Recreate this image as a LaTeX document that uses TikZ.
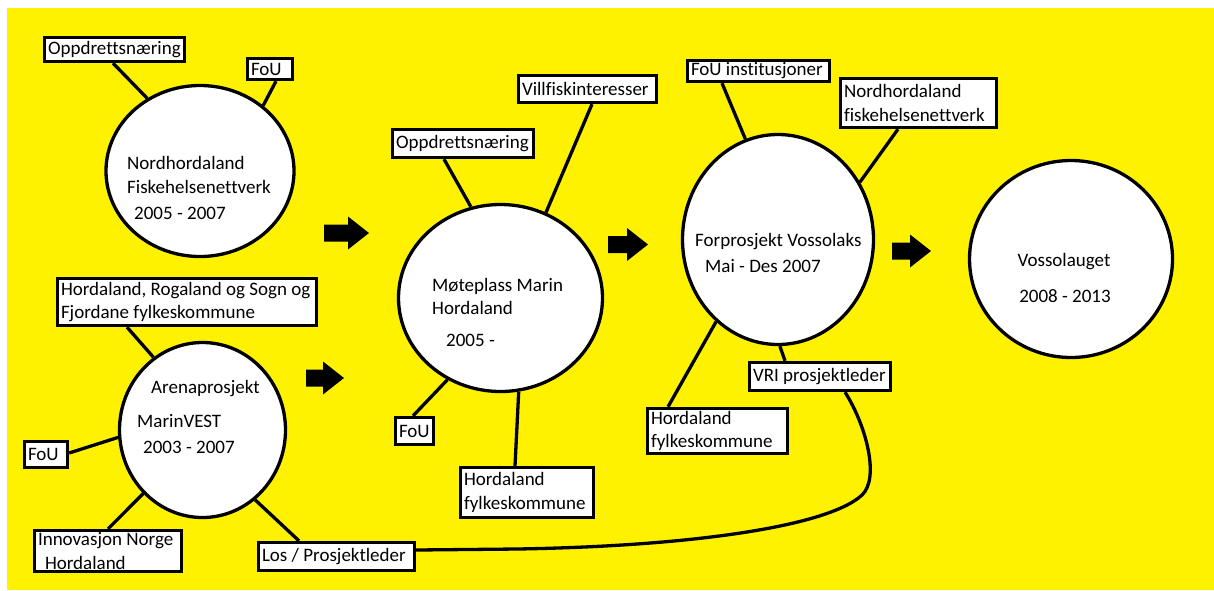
\documentclass[tikz,border=0pt]{standalone}
\usepackage{fontspec}
\setmainfont[Ligatures=NoCommon]{Carlito}
\usetikzlibrary{shapes.geometric,calc}
\definecolor{bgyellow}{RGB}{255,242,0}
\newcommand\figfont{\fontsize{19}{23.5}\selectfont}
\pgfdeclarelayer{background}
\pgfsetlayers{background,main}
\begin{document}
\begin{tikzpicture}[x=1pt,y=-1pt,
  box/.style={draw, line width=3.3pt, fill=white, inner xsep=3.5pt, inner ysep=1pt, align=left, font=\figfont, anchor=center,
    execute at begin node={\spaceskip=0pt\xspaceskip=0pt\relax}},
  hub/.style={ellipse, draw, line width=3.3pt, fill=white, inner sep=0pt},
  conn/.style={line width=3.3pt},
  txt/.style={anchor=base west, inner sep=0pt, font=\figfont},
  ctxt/.style={anchor=base, inner sep=0pt, font=\figfont},
  pics/barrow/.style={code={\fill (-#1,-8.5) -- (-21,-8.5) -- (-21,-16.5) -- (0,0) -- (-21,16.5) -- (-21,8.5) -- (-#1,8.5) -- cycle;}}
]
\useasboundingbox (0,0) rectangle (1214,590);

% hubs
\node[hub, minimum width=188pt, minimum height=171pt] (c1) at (200,171) {};
\node[hub, minimum width=166pt, minimum height=175pt] (c2) at (202.5,430) {};
\node[hub, minimum width=204pt, minimum height=187pt] (c3) at (500.5,298) {};
\node[hub, minimum width=191pt, minimum height=210pt] (c4) at (778,239.5) {};
\node[hub, minimum width=203pt, minimum height=197pt] (c5) at (1071,259) {};

% hub texts
\node[txt] (t1a) at (127,169) {Nordhordaland};
\node[txt] (t1b) at (127,193) {Fiskehelsenettverk};
\node[txt] (t1c) at (134,219) {2005 - 2007};
\node[txt] (t2a) at (151,393) {Arenaprosjekt};
\node[txt] (t2b) at (137,427) {MarinVEST};
\node[txt] (t2c) at (143,453) {2003 - 2007};
\node[txt] (t3a) at (432,291) {Møteplass Marin};
\node[txt] (t3b) at (432,314) {Hordaland};
\node[txt] (t3c) at (446,346) {2005 -};
\node[txt] (t4a) at (695,246) {Forprosjekt Vossolaks};
\node[txt] (t4b) at (705,272) {Mai - Des 2007};
\node[ctxt] (t5a) at (1064,266) {Vossolauget};
\node[ctxt] (t5b) at (1065,302) {2008 - 2013};

% boxes
\node[box, minimum width=140pt, minimum height=24pt, text width=133pt] (b1) at (114.5,49.5) {Oppdrettsnæring};
\node[box, minimum width=45pt, minimum height=21pt, text width=38pt] (b2) at (270,69) {FoU};
\node[box, minimum width=259pt, minimum height=47pt, text width=252pt] (b3) at (187,302) {Hordaland, Rogaland og Sogn og\\Fjordane fylkeskommune};
\node[box, minimum width=43pt, minimum height=26pt, text width=36pt] (b4) at (46,454.5) {FoU};
\node[box, minimum width=147pt, minimum height=41pt, text width=140pt] (b5) at (108,551) {Innovasjon Norge\\\hspace*{7pt}Hordaland};
\node[box, minimum width=156pt, minimum height=28pt, text width=149pt] (b6) at (336.5,556.5) {Los / Prosjektleder};
\node[box, minimum width=138pt, minimum height=27pt, text width=131pt] (b7) at (587.5,89) {Villfiskinteresser};
\node[box, minimum width=141pt, minimum height=28pt, text width=134pt] (b8) at (463,143.5) {Oppdrettsnæring};
\node[box, minimum width=38pt, minimum height=27pt, text width=31pt] (b9) at (414.5,431) {FoU};
\node[box, minimum width=133pt, minimum height=50pt, text width=126pt] (b10) at (527,492.5) {Hordaland\\fylkeskommune};
\node[box, minimum width=142pt, minimum height=21pt, text width=135pt] (b11) at (758.5,71) {FoU institusjoner};
\node[box, minimum width=156pt, minimum height=49pt, text width=149pt] (b12) at (918.5,103) {Nordhordaland\\fiskehelsenettverk};
\node[box, minimum width=140pt, minimum height=45pt, text width=133pt] (b13) at (717.5,431) {Hordaland\\fylkeskommune};
\node[box, minimum width=141pt, minimum height=28pt, text width=134pt] (b14) at (820,376.5) {VRI prosjektleder};

% block arrows
\pic (a1) at (369,233) {barrow=45};
\pic (a2) at (344,378) {barrow=38};
\pic (a3) at (648,244.5) {barrow=40};
\pic (a4) at (931,251) {barrow=39};

\begin{pgfonlayer}{background}
\fill[bgyellow] (7,8) rectangle (1214,590);
\draw[conn] ([xshift=-1.5]b1.south) -- (c1.126.9);
\draw[conn] ([xshift=6]b2.south) -- (c1.46.4);
\draw[conn] ([xshift=-60]b3.south) -- (c2.124.1);
\draw[conn] ([yshift=1.5]b4.east) -- (c2.185.4);
\draw[conn] (b5.north) -- (c2.227);
\draw[conn] ([xshift=-37.5]b6.north) -- (c2.307.9);
\draw[conn] ([xshift=-19]b8.south) -- (c3.108.9);
\draw[conn] ([xshift=4.5]b7.south) -- (c3.62.7);
\draw[conn] ([xshift=-1.5]b9.north) -- (c3.237);
\draw[conn] ([xshift=-12]b10.north) -- (c3.281);
\draw[conn] ([xshift=-36.5]b11.south) -- (c4.108.7);
\draw[conn] ([xshift=-20.5]b12.south) -- (c4.35.3);
\draw[conn] ([xshift=-49.5]b13.north) -- (c4.233.3);
\draw[conn] ([xshift=-35]b14.north) -- (c4.271);
\draw[conn] ([yshift=6.5]b6.east) -- (517,549) .. controls (700,546) and (830,525) .. (862,495) .. controls (880,478) and (866,425) .. ([xshift=25]b14.south);
\end{pgfonlayer}
\end{tikzpicture}
\end{document}
